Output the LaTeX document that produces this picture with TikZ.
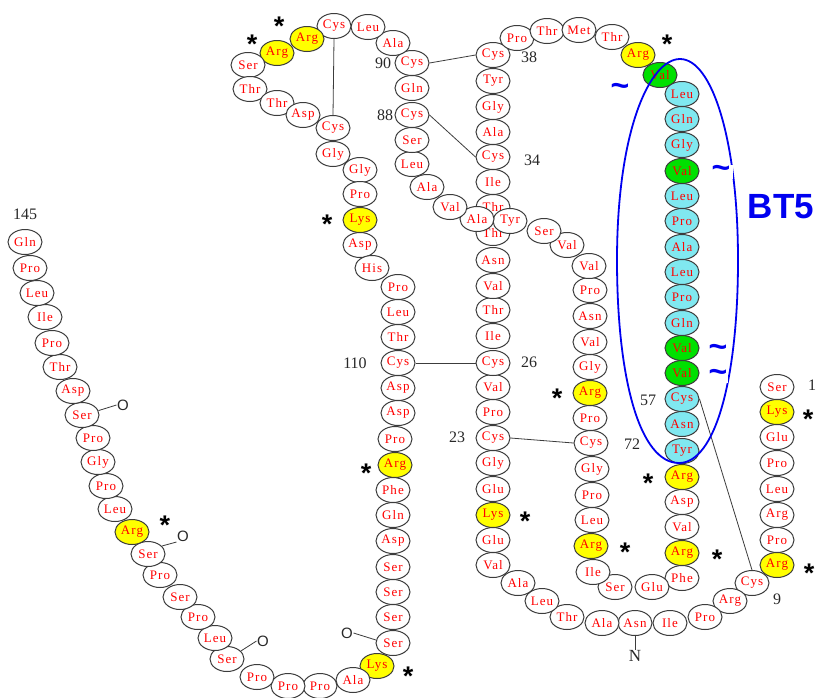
\documentclass[tikz,border=0pt]{standalone}
\usepackage{fontspec}
\setmainfont{Liberation Serif}
\newfontfamily\resfont[LetterSpace=8]{Liberation Serif}
\newfontfamily\sansf{Liberation Sans}
\usetikzlibrary{shapes.geometric}
\definecolor{fillw}{RGB}{255,255,255}
\definecolor{filly}{RGB}{255,255,0}
\definecolor{fillg}{RGB}{0,224,0}
\definecolor{fillc}{RGB}{128,232,240}
\definecolor{outl}{RGB}{60,60,60}
\definecolor{bt}{RGB}{0,0,240}
\definecolor{labc}{RGB}{40,40,40}
\begin{document}
\begin{tikzpicture}[x=1pt,y=-1pt,
  res/.style={ellipse, draw=outl, line width=1pt, minimum width=34pt, minimum height=25pt,
    inner sep=0pt, fill=fill#1, text=red, font=\resfont\fontsize{13}{13}\selectfont},
  numlab/.style={text=labc, font=\fontsize{16}{16}\selectfont, inner sep=0pt},
  astlab/.style={text=black, font=\sansf\bfseries\fontsize{27}{27}\selectfont, inner sep=0pt,
    anchor=base, yshift=-15.5pt},
  olab/.style={text=labc, font=\sansf\fontsize{15}{15}\selectfont, inner sep=0.5pt},
  bond/.style={draw=outl, line width=0.8pt},
  tild/.style={text=bt, fill=white, font=\sansf\bfseries\fontsize{32}{32}\selectfont, inner xsep=1pt, inner ysep=0pt}]
\useasboundingbox (0,0) rectangle (821,697);
\fill[white] (0,0) rectangle (821,697);
\foreach \i/\t/\x/\y/\s in {
1/Ser/777/387/w, 2/Lys/777/412/y, 3/Glu/777/437/w, 4/Pro/777/463/w, 5/Leu/777/489/w,
6/Arg/777/515/w, 7/Pro/777/540/w, 8/Arg/777/565/y, 9/Cys/752/583/w, 10/Arg/730/601/w,
11/Pro/705/617/w, 12/Ile/670/623/w, 13/Asn/635/623/w, 14/Ala/602/623/w, 15/Thr/567/617/w,
16/Leu/542/601/w, 17/Ala/518/583/w, 18/Val/493/565/w, 19/Glu/493/540/w, 20/Lys/493/515/y,
21/Glu/493/489/w, 22/Gly/493/463/w, 23/Cys/493/438/w, 24/Pro/493/412/w, 25/Val/493/387/w,
26/Cys/493/363/w, 27/Ile/493/336/w, 28/Thr/493/310/w, 29/Val/493/286/w, 30/Asn/493/260/w,
31/Thr/493/233/w, 32/Thr/493/207/w, 33/Ile/493/182/w, 34/Cys/493/157/w, 35/Ala/493/132/w,
36/Gly/493/107/w, 37/Tyr/493/81/w, 38/Cys/493/55/w, 39/Pro/517/38/w, 40/Thr/547/31/w,
41/Met/579/30/w, 42/Thr/612/37/w, 43/Arg/638/55/y, 44/Val/660/75/g, 45/Leu/682/94/c,
46/Gln/682/119/c, 47/Gly/682/145/c, 48/Val/682/171/g, 49/Leu/682/196/c, 50/Pro/682/221/c,
51/Ala/682/247/c, 52/Leu/682/272/c, 53/Pro/682/297/c, 54/Gln/682/323/c, 55/Val/682/348/g,
56/Val/682/373/g, 57/Cys/682/399/c, 58/Asn/682/424/c, 59/Tyr/682/451/c, 60/Arg/682/477/y,
61/Asp/682/502/w, 62/Val/682/527/w, 63/Arg/682/553/y, 64/Phe/682/578/w, 65/Glu/652/587/w,
66/Ser/615/587/w, 67/Ile/593/572/w, 68/Arg/591/546/y, 69/Leu/592/520/w, 70/Pro/592/495/w,
71/Gly/592/469/w, 72/Cys/591/443/w, 73/Pro/590/418/w, 74/Arg/590/393/y, 75/Gly/590/367/w,
76/Val/590/342/w, 77/Asn/590/316/w, 78/Pro/590/290/w, 79/Val/589/266/w, 80/Val/567/245/w,
81/Ser/544/231/w, 82/Tyr/510/221/w, 83/Ala/477/219/w, 84/Val/450/207/w, 85/Ala/427/187/w,
86/Leu/412/164/w, 87/Ser/412/140/w, 88/Cys/412/115/w, 89/Gln/412/88/w, 90/Cys/412/63/w,
91/Ala/393/43/w, 92/Leu/368/27/w, 93/Cys/334/26/w, 94/Arg/307/39/y, 95/Arg/277/53/y,
96/Ser/248/65/w, 97/Thr/250/89/w, 98/Thr/277/103/w, 99/Asp/303/115/w, 100/Cys/333/128/w,
101/Gly/333/154/w, 102/Gly/360/170/w, 103/Pro/360/194/w, 104/Lys/360/220/y, 105/Asp/360/245/w,
106/His/372/268/w, 107/Pro/398/287/w, 108/Leu/398/312/w, 109/Thr/398/337/w, 110/Cys/398/363/w,
111/Asp/398/388/w, 112/Asp/398/413/w, 113/Pro/395/439/w, 114/Arg/395/465/y, 115/Phe/393/490/w,
116/Gln/393/515/w, 117/Asp/393/541/w, 118/Ser/393/567/w, 119/Ser/393/592/w, 120/Ser/393/617/w,
121/Ser/393/643/w, 122/Lys/377/666/y, 123/Ala/353/680/w, 124/Pro/320/686/w, 125/Pro/288/686/w,
126/Pro/257/677/w, 127/Ser/227/659/w, 128/Leu/215/638/w, 129/Pro/198/617/w, 130/Ser/180/597/w,
131/Pro/160/575/w, 132/Ser/148/554/w, 133/Arg/132/532/y, 134/Leu/115/509/w, 135/Pro/106/486/w,
136/Gly/98/462/w, 137/Pro/93/438/w, 138/Ser/82/415/w, 139/Asp/73/391/w, 140/Thr/60/367/w,
141/Pro/52/343/w, 142/Ile/45/317/w, 143/Leu/37/293/w, 144/Pro/30/268/w, 145/Gln/25/242/w}
  \node[res=\s] (r\i) at (\x,\y) {\t};
% disulfide bonds
\draw[bond] (r93.south) -- (r100.north);
\draw[bond] (r90.east) -- (r38.west);
\draw[bond] (r88.east) -- (r34.west);
\draw[bond] (r110.east) -- (r26.west);
\draw[bond] (r23.east) -- (r72.west);
\draw[bond] (r57.east) -- (r9.north);
% glycosylation marks
\node[numlab, font=\fontsize{17}{17}\selectfont] (nN) at (635,656) {N};
\draw[bond] (r13.south) -- (nN.north);
\node[olab] (o1) at (123,405) {O};
\node[olab] (o2) at (183,536) {O};
\node[olab] (o3) at (263,641) {O};
\node[olab] (o4) at (347,633) {O};
\draw[bond] (r138.15) -- (o1.west);
\draw[bond] (r132.30) -- (o2.south west);
\draw[bond] (r127.30) -- (o3.west);
\draw[bond] (r121.170) -- (o4.east);
% numbers
\foreach \t/\x/\y [count=\k] in {145/25/214, 90/383/63, 88/385/115, 38/529/57, 34/532/160,
  110/355/363, 26/529/362, 23/457/437, 72/632/444, 57/648/400, 1/812/385, 9/777/599}
  \node[numlab] (n\k) at (\x,\y) {\t};
% asterisks
\foreach \x/\y [count=\k] in {279/20, 252/38, 327/218, 366/467, 408/670, 165/519, 525/515,
  557/392, 625/546, 667/38, 648/477, 717/553, 808/413, 809/567}
  \node[astlab] (a\k) at (\x,\y) {*};
% BT5 outline
\draw[bt, line width=1.8pt] (679,463) .. controls (640,463) and (617,380) .. (617,260)
  .. controls (617,130) and (650,59) .. (680,59)
  .. controls (712,59) and (738,140) .. (738,260)
  .. controls (738,380) and (715,463) .. (679,463);
\node[tild] (t1) at (620,90) {\textasciitilde};
\node[tild, inner xsep=3pt] (t2) at (721,172) {\textasciitilde};
\node[tild] (t3) at (718,351) {\textasciitilde};
\node[tild] (t4) at (718,376) {\textasciitilde};
\node[text=bt, font=\sansf\bfseries\fontsize{35}{35}\selectfont, inner sep=0pt] (bt5) at (781,207) {BT5};
\end{tikzpicture}
\end{document}
